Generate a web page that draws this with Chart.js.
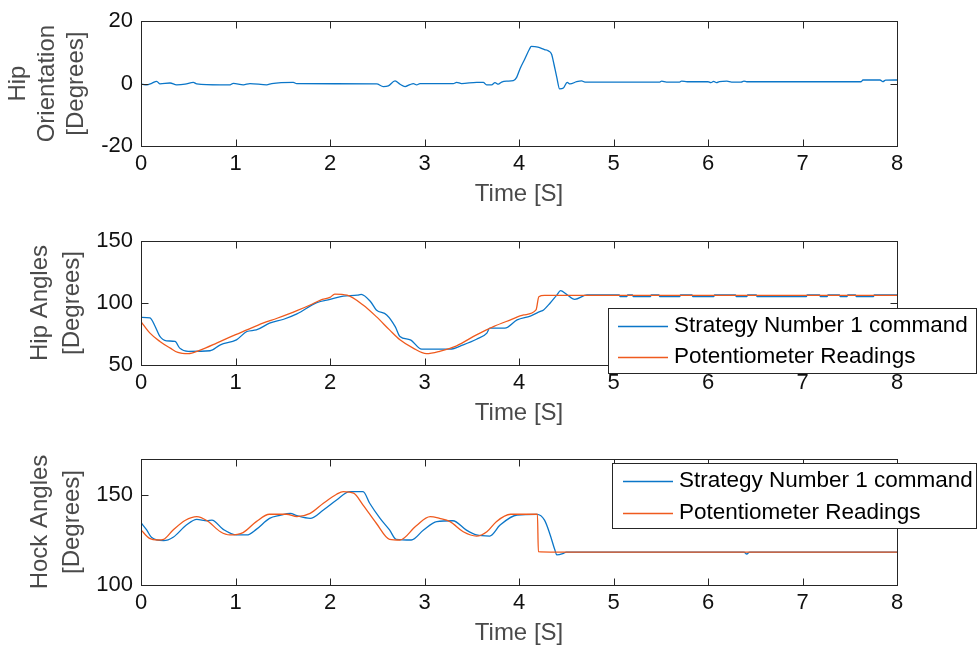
<!DOCTYPE html>
<html><head><meta charset="utf-8">
<script src="https://cdn.jsdelivr.net/npm/chart.js@4/dist/chart.umd.min.js"></script>
<style>
html,body{margin:0;padding:0;background:#fff;overflow:hidden;width:977px;height:653px;}
canvas{position:absolute;left:0;}
</style></head><body>
<canvas id="c1" width="977" height="218" style="top:0px"></canvas>
<canvas id="c2" width="977" height="219" style="top:218px"></canvas>
<canvas id="c3" width="977" height="220" style="top:437px"></canvas>
<script>
// ---------- data ----------
const timeTicks = [0,1,2,3,4,5,6,7,8];
const oriTicks = [-20,0,20];
const hipTicks = [50,100,150];
const hockTicks = [100,150];
const seriesNames = ['Strategy Number 1 command','Potentiometer Readings'];

const oriTime = [0,0.06,0.113,0.166,0.201,0.307,0.377,0.466,0.554,0.589,0.836,0.942,0.977,1.083,1.153,1.33,1.383,1.612,1.647,2.494,2.564,2.617,2.688,2.741,2.794,2.847,2.882,2.917,2.952,3.305,3.34,3.393,3.552,3.622,3.657,3.71,3.746,3.781,3.816,3.869,3.94,3.975,4.01,4.06,4.11,4.13,4.2,4.27,4.31,4.345,4.37,4.4,4.43,4.47,4.51,4.54,4.61,4.663,4.698,5.49,5.51,5.56,5.7,5.72,5.78,6.0,6.03,6.06,6.09,6.12,6.2,6.25,6.35,6.38,6.41,7.62,7.64,7.82,7.85,7.88,8.0];
const oriDeg  = [-0.1,-0.4,0.1,0.74,-0.1,0.2,-0.4,-0.2,0.4,-0.1,-0.4,-0.4,0.1,-0.4,0,-0.4,0,0.4,0,-0.1,-0.95,-0.74,0.85,-0.2,-0.95,-0.3,0,-0.4,0,0,0.4,0,0.4,0.4,-0.4,-0.4,0.3,-0.2,0.5,0.8,0.95,2.0,4.7,7.8,11.0,11.9,11.7,10.9,10.5,9.4,6.2,2.0,-1.7,-1.4,0.4,-0.1,0.6,0.85,0.5,0.5,0.8,0.5,0.5,0.8,0.6,0.6,0.3,0.7,0.3,0.6,0.8,0.5,0.5,0.8,0.6,0.6,1.16,1.16,0.64,1.1,1.16];

const hipCmdTime = [0,0.095,0.15,0.2,0.27,0.36,0.41,0.5,0.73,0.84,1.01,1.12,1.22,1.36,1.51,1.65,1.86,2.0,2.14,2.29,2.33,2.43,2.49,2.6,2.69,2.74,2.85,2.97,3.27,3.41,3.55,3.66,3.69,3.85,3.98,4.12,4.22,4.26,4.33,4.4,4.44,4.5,4.59,4.72,5.0,
  5.06,5.07,5.14,5.15, 5.2,5.21,5.39,5.4, 5.48,5.49,5.7,5.71, 5.83,5.84,6.06,6.07, 6.29,6.3,6.41,6.42, 6.51,6.52,7.04,7.05, 7.18,7.19,7.26,7.27, 7.39,7.4,7.47,7.48, 7.56,7.57,7.75,7.76, 8.0];
const hipCmd     = [88.5,88,81,73,69.5,69,63.6,61,61.5,66.3,70.3,77,78.3,83.7,86.9,91.2,100.3,102.9,105.6,106.3,107,101,94.4,90.4,81,73,70.3,62.8,62.8,66.3,70.8,75.7,79.7,79.7,86.4,89.5,93,94.4,100,106.4,109.9,107.2,102.9,106.5,106.5,
  106.5,105.2,105.2,106.5, 106.5,105.2,105.2,106.5, 106.5,105.2,105.2,106.5, 106.5,105.2,105.2,106.5, 106.5,105.2,105.2,106.5, 106.5,105.2,105.2,106.5, 106.5,105.2,105.2,106.5, 106.5,105.2,105.2,106.5, 106.5,105.2,105.2,106.5, 106.5];
const hipPotTime = [0,0.095,0.2,0.31,0.39,0.5,0.62,0.8,0.94,1.12,1.29,1.44,1.65,1.79,1.9,2.0,2.05,2.18,2.35,2.49,2.63,2.74,2.88,3.02,3.16,3.34,3.55,3.73,3.91,4.05,4.18,4.21,4.27,8.0];
const hipPot     = [85,75.7,69,63.6,60.1,59.1,61.8,67.6,72.5,78.3,83.7,87.7,93.8,98.4,102.4,104.5,107.2,106.3,98.4,89,78.3,70.3,63.6,59.1,61,65.5,74.3,81,86.4,90.4,94.4,105.1,106.2,106.2];

const hockCmdTime = [0,0.06,0.11,0.24,0.34,0.48,0.59,0.7,0.75,0.87,1.01,1.12,1.22,1.36,1.47,1.58,1.65,1.79,1.93,2.07,2.21,2.35,2.42,2.53,2.63,2.7,2.86,2.99,3.13,3.3,3.44,3.55,3.69,3.8,3.98,4.19,4.27,4.33,4.38,4.4,4.47,4.5,6.38,6.41,6.44,8.0];
const hockCmd     = [134.6,130.6,126.5,124.6,126.5,133.3,136.5,135.7,136,130.9,127.8,127.8,130.9,137,138.7,139.8,138.5,137,141.7,147.2,151.9,151.9,145.4,137,130.6,125.4,125,130.6,135.2,135.7,130.6,127.8,127.2,133.3,138.9,139.2,136,127.8,119.4,116.7,117.6,118.3,118.3,117.2,118.3,118.3];
const hockPotTime = [0,0.09,0.18,0.24,0.34,0.47,0.59,0.7,0.84,0.94,1.08,1.22,1.36,1.54,1.65,1.79,1.93,2.07,2.14,2.25,2.35,2.49,2.63,2.74,2.91,3.06,3.16,3.27,3.41,3.55,3.66,3.76,3.91,4.195,4.205,4.33,8.0];
const hockPot     = [130.6,125.9,125,125.4,130.6,136,138,135.7,129.6,127.8,129.1,135.2,139.3,139.3,138,139.8,145.4,150.4,151.9,151,144.4,134.3,125.4,125,132.8,138,137,135.2,129.6,127.2,129.6,135.2,139.3,139.3,118.5,118.3,118.3];

// ---------- styling ----------
const FONT = "'Liberation Sans', Arial, Helvetica, sans-serif";
const BLUE = '#0b76c8';
const ORANGE = '#ef5a1e';
const AXIS = '#262626';
Chart.defaults.font.family = FONT;

const pts = (t, v) => t.map((x, i) => ({x: x, y: v[i]}));

const boxPlugin = {
  id: 'boxTicks',
  afterDatasetsDraw(chart) {
    const {ctx, chartArea: a, scales: {x, y}} = chart;
    const L = Math.round(a.left) + 0.5, R = Math.round(a.right) + 0.5;
    const T = Math.round(a.top) + 0.5, B = Math.round(a.bottom) + 0.5;
    ctx.save();
    ctx.strokeStyle = AXIS; ctx.lineWidth = 1;
    ctx.beginPath();
    x.ticks.forEach(t => {
      const p = Math.round(x.getPixelForValue(t.value)) + 0.5;
      ctx.moveTo(p, B); ctx.lineTo(p, B - 7);
      ctx.moveTo(p, T); ctx.lineTo(p, T + 7);
    });
    y.ticks.forEach(t => {
      const p = Math.round(y.getPixelForValue(t.value)) + 0.5;
      ctx.moveTo(L, p); ctx.lineTo(L + 7, p);
      ctx.moveTo(R, p); ctx.lineTo(R - 7, p);
    });
    ctx.stroke();
    ctx.strokeRect(L, T, R - L, B - T);
    ctx.restore();
  }
};

const legendPlugin = {
  id: 'boxLegend',
  afterDraw(chart, args, opts) {
    if (!opts || !opts.box) return;
    const ctx = chart.ctx, b = opts.box;
    ctx.save();
    ctx.fillStyle = '#fff';
    ctx.fillRect(b[0], b[1], b[2] - b[0], b[3] - b[1]);
    ctx.strokeStyle = AXIS; ctx.lineWidth = 1;
    ctx.strokeRect(b[0] + 0.5, b[1] + 0.5, b[2] - b[0] - 1, b[3] - b[1] - 1);
    ctx.font = '22.5px ' + FONT;
    ctx.textBaseline = 'middle';
    ctx.textAlign = 'left';
    seriesNames.forEach((name, i) => {
      const ds = chart.data.datasets.find(d => d.label === name);
      const yy = opts.rows[i];
      ctx.strokeStyle = ds.borderColor; ctx.lineWidth = 1.3;
      ctx.beginPath(); ctx.moveTo(opts.line[0], yy + 0.5); ctx.lineTo(opts.line[1], yy + 0.5); ctx.stroke();
      ctx.fillStyle = '#000';
      ctx.fillText(name, opts.textX, yy);
    });
    ctx.restore();
  }
};

function build(id, o) {
  const plugins = [boxPlugin];
  if (o.legend) plugins.push(legendPlugin);
  new Chart(document.getElementById(id), {
    type: 'line',
    data: {datasets: o.datasets},
    options: {
      responsive: false, animation: false, devicePixelRatio: 1,
      layout: {padding: {left: 0, right: 80, top: o.padTop, bottom: 0}},
      elements: {point: {radius: 0}, line: {borderWidth: 1.3, tension: 0.4, cubicInterpolationMode: 'monotone'}},
      plugins: {legend: {display: false}, tooltip: {enabled: false}, boxLegend: o.legend || {}},
      scales: {
        x: {
          type: 'linear', min: 0, max: 8,
          afterBuildTicks: s => { s.ticks = timeTicks.map(v => ({value: v})); },
          afterFit: s => { s.height = 72; },
          grid: {display: false, drawTicks: false, tickLength: 0},
          border: {display: false},
          ticks: {padding: 5, color: '#111', font: {size: 22, lineHeight: 1.2}, maxRotation: 0, autoSkip: false},
          title: {display: true, text: 'Time [S]', color: '#4a4a4a', font: {size: 24, lineHeight: 1.2}, padding: {top: 0, bottom: 9.6}}
        },
        y: {
          type: 'linear', min: o.yMin, max: o.yMax,
          afterBuildTicks: s => { s.ticks = o.yTicks.map(v => ({value: v})); },
          afterFit: s => { s.width = 141; },
          grid: {display: false, drawTicks: false, tickLength: 0},
          border: {display: false},
          ticks: {padding: 8, color: '#111', font: {size: 22, lineHeight: 1.2}, autoSkip: false},
          title: {display: true, text: o.yTitle, color: '#4a4a4a', font: {size: 24, lineHeight: o.titleLH}, padding: {top: o.titlePad, bottom: 0}}
        }
      }
    },
    plugins: plugins
  });
}

build('c1', {
  padTop: 20, yMin: -20, yMax: 20, yTicks: oriTicks,
  yTitle: ['Hip', 'Orientation', '[Degrees]'], titleLH: 29 / 24, titlePad: 4.2,
  datasets: [{label: seriesNames[0], data: pts(oriTime, oriDeg), borderColor: BLUE, borderWidth: 1.3, order: 2}]
});

build('c2', {
  padTop: 23, yMin: 50, yMax: 150, yTicks: hipTicks,
  yTitle: ['Hip Angles', '[Degrees]'], titleLH: 32 / 24, titlePad: 24,
  datasets: [
    {label: seriesNames[1], data: pts(hipPotTime, hipPot), borderColor: ORANGE, borderWidth: 1.3, order: 1},
    {label: seriesNames[0], data: pts(hipCmdTime, hipCmd), borderColor: BLUE, borderWidth: 1.3, order: 2}
  ],
  legend: {box: [608, 90, 977, 156], rows: [108, 139], line: [618, 668], textX: 674}
});

build('c3', {
  padTop: 22, yMin: 100, yMax: 170, yTicks: hockTicks,
  yTitle: ['Hock Angles', '[Degrees]'], titleLH: 32 / 24, titlePad: 24,
  datasets: [
    {label: seriesNames[1], data: pts(hockPotTime, hockPot), borderColor: ORANGE, borderWidth: 1.3, order: 1},
    {label: seriesNames[0], data: pts(hockCmdTime, hockCmd), borderColor: BLUE, borderWidth: 1.3, order: 2}
  ],
  legend: {box: [612, 26, 977, 92], rows: [44, 76], line: [623, 673], textX: 679}
});
</script>
</body></html>
